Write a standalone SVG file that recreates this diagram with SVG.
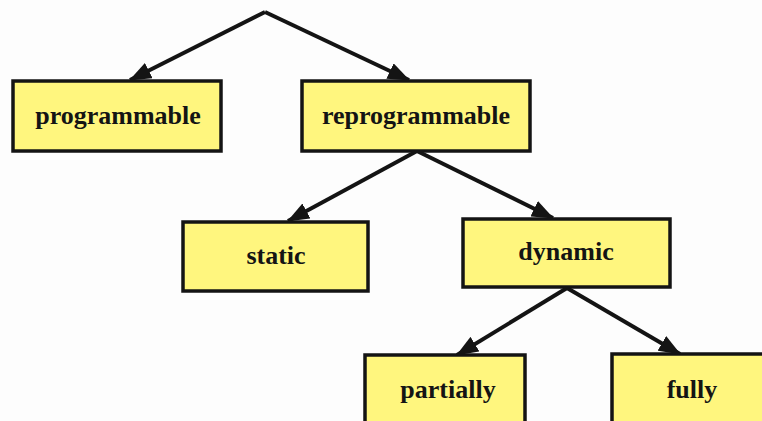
<svg xmlns="http://www.w3.org/2000/svg" width="762" height="421" viewBox="0 0 762 421">
  <defs>
    <marker id="arrow" viewBox="0 0 22 17" refX="21" refY="8.5" markerWidth="22" markerHeight="17" markerUnits="userSpaceOnUse" orient="auto">
      <path d="M0,0 L22,8.5 L0,17 z" fill="#141414"/>
    </marker>
    <style>
      .box rect { fill: #fff67e; stroke: #141414; stroke-width: 3.5; }
      .box text { font-family: "Liberation Serif", "Times New Roman", serif; font-weight: bold; font-size: 26px; fill: #141414; text-anchor: middle; }
      #edges line { stroke: #141414; stroke-width: 4; marker-end: url(#arrow); }
    </style>
  </defs>
  <rect width="762" height="421" fill="#fdfdfd"/>

  <g id="edges">
    <line x1="265" y1="12" x2="130" y2="80"/>
    <line x1="265" y1="12" x2="409" y2="80"/>
    <line x1="417" y1="151" x2="288" y2="221"/>
    <line x1="417" y1="151" x2="553" y2="218"/>
    <line x1="567" y1="288" x2="457" y2="355"/>
    <line x1="567" y1="288" x2="680" y2="354"/>
  </g>

  <g id="programmable" class="box">
    <rect x="13" y="81" width="208" height="70"/>
    <text x="118" y="124">programmable</text>
  </g>
  <g id="reprogrammable" class="box">
    <rect x="302" y="81" width="228" height="70"/>
    <text x="416" y="124">reprogrammable</text>
  </g>
  <g id="static" class="box">
    <rect x="183" y="222" width="185" height="69"/>
    <text x="276" y="264">static</text>
  </g>
  <g id="dynamic" class="box">
    <rect x="463" y="219" width="207" height="68"/>
    <text x="566" y="260">dynamic</text>
  </g>
  <g id="partially" class="box">
    <rect x="365" y="355" width="160" height="80"/>
    <text x="448" y="398">partially</text>
  </g>
  <g id="fully" class="box">
    <rect x="612" y="354" width="170" height="80"/>
    <text x="692" y="398">fully</text>
  </g>
</svg>
